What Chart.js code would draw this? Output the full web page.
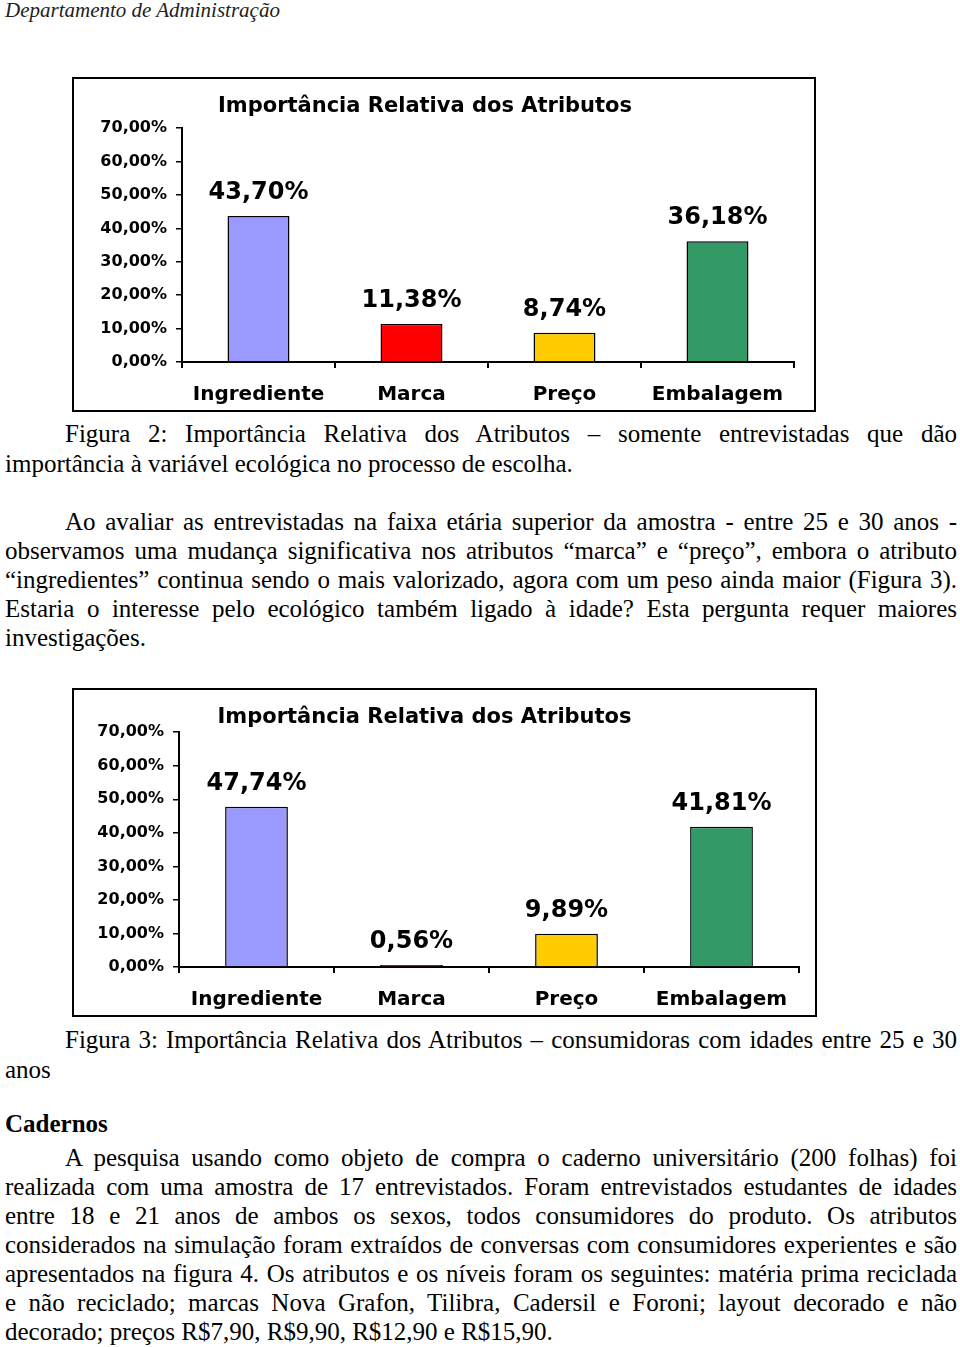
<!DOCTYPE html>
<html lang="pt">
<head>
<meta charset="utf-8">
<title>Importância Relativa dos Atributos</title>
<script src="https://cdn.jsdelivr.net/npm/chart.js@4.4.1/dist/chart.umd.min.js"></script>
<style>
  html, body { margin: 0; padding: 0; background: #fff; overflow: hidden; }
  body { position: relative; width: 960px; height: 1347px; font-family: "Liberation Serif", "Times New Roman", serif; color: #000; }
  .ln { position: absolute; left: 5px; width: 952px; font-size: 25px; line-height: 29px; text-align: left; }
  .j { text-align: justify; text-align-last: justify; }
  .ind { padding-left: 60px; width: 892px; }
  .hdr { position: absolute; left: 5px; top: -2px; font-size: 21px; line-height: 24px; font-style: italic; color: #222; }
  .frame { position: absolute; left: 72px; border: 2px solid #000; box-sizing: border-box; background: #fff; }
</style>
</head>
<body>

<div class="hdr">Departamento de Administração</div>

<div class="frame" style="top:77px; width:744px; height:335px;"><canvas id="fig2"></canvas></div>

<div class="ln j ind" style="top:419px;">Figura 2: Importância Relativa dos Atributos – somente entrevistadas que dão</div>
<div class="ln" style="top:449px;">importância à variável ecológica no processo de escolha.</div>

<div class="ln j ind" style="top:507px;">Ao avaliar as entrevistadas na faixa etária superior da amostra - entre 25 e 30 anos -</div>
<div class="ln j" style="top:536px;">observamos uma mudança significativa nos atributos “marca” e “preço”, embora o atributo</div>
<div class="ln j" style="top:565px;">“ingredientes” continua sendo o mais valorizado, agora com um peso ainda maior (Figura 3).</div>
<div class="ln j" style="top:594px;">Estaria o interesse pelo ecológico também ligado à idade? Esta pergunta requer maiores</div>
<div class="ln" style="top:623px;">investigações.</div>

<div class="frame" style="top:688px; width:745px; height:329px;"><canvas id="fig3"></canvas></div>

<div class="ln j ind" style="top:1025px;">Figura 3: Importância Relativa dos Atributos – consumidoras com idades entre 25 e 30</div>
<div class="ln" style="top:1055px;">anos</div>

<div class="ln" style="top:1109px; font-weight:bold;">Cadernos</div>

<div class="ln j ind" style="top:1143px;">A pesquisa usando como objeto de compra o caderno universitário (200 folhas) foi</div>
<div class="ln j" style="top:1172px;">realizada com uma amostra de 17 entrevistados. Foram entrevistados estudantes de idades</div>
<div class="ln j" style="top:1201px;">entre 18 e 21 anos de ambos os sexos, todos consumidores do produto. Os atributos</div>
<div class="ln j" style="top:1230px;">considerados na simulação foram extraídos de conversas com consumidores experientes e são</div>
<div class="ln j" style="top:1259px;">apresentados na figura 4. Os atributos e os níveis foram os seguintes: matéria prima reciclada</div>
<div class="ln j" style="top:1288px;">e não reciclado; marcas Nova Grafon, Tilibra, Cadersil e Foroni; layout decorado e não</div>
<div class="ln" style="top:1317px;">decorado; preços R$7,90, R$9,90, R$12,90 e R$15,90.</div>

<script>
// ------------------------------
// DATA
// ------------------------------
const chartTitle = 'Importância Relativa dos Atributos';
const categories = ['Ingrediente', 'Marca', 'Preço', 'Embalagem'];
const fig2Values = [43.70, 11.38, 8.74, 36.18];   // somente entrevistadas que dão importância à variável ecológica
const fig3Values = [47.74, 0.56, 9.89, 41.81];    // consumidoras com idades entre 25 e 30 anos
const yTickValues = [0, 10, 20, 30, 40, 50, 60, 70];

// ------------------------------
// HELPERS
// ------------------------------
const fmtPct = v => v.toFixed(2).replace('.', ',') + '%';
const FONT = '"DejaVu Sans", "Liberation Sans", Arial, sans-serif';

// draws the value above every bar, from the bar element's own position
const barValueLabels = {
  id: 'barValueLabels',
  afterDatasetsDraw(chart) {
    const ctx = chart.ctx;
    ctx.save();
    ctx.font = 'bold 24px ' + FONT;
    ctx.fillStyle = '#000';
    ctx.textAlign = 'center';
    ctx.textBaseline = 'middle';
    chart.getDatasetMeta(0).data.forEach((bar, i) => {
      ctx.fillText(fmtPct(chart.data.datasets[0].data[i]), bar.x, bar.y - 23);
    });
    ctx.restore();
  }
};

// the original title is not centred on the frame, shift its box a bit
const titleShift = {
  id: 'titleShift',
  afterLayout(chart, args, opts) {
    if (chart.titleBlock && opts.right) chart.titleBlock.right = opts.right;
  }
};

function buildChart(canvasId, values, lay) {
  const ctx = document.getElementById(canvasId).getContext('2d');
  return new Chart(ctx, {
    type: 'bar',
    data: {
      labels: categories,
      datasets: [{
        data: values,
        backgroundColor: ['#9999FF', '#FF0000', '#FFCC00', '#339966'],
        borderColor: '#000',
        borderWidth: 1.5,
        borderSkipped: 'bottom',
        categoryPercentage: 1,
        barPercentage: 0.405
      }]
    },
    plugins: [barValueLabels, titleShift],
    options: {
      responsive: true,
      maintainAspectRatio: false,
      animation: false,
      layout: { padding: { left: 0, right: lay.padRight, top: 0, bottom: 0 } },
      scales: {
        x: {
          offset: true,
          grid: { display: true, drawOnChartArea: false, drawTicks: true, tickLength: 6, color: '#000', lineWidth: 2, offset: true },
          border: { display: true, color: '#000', width: 2 },
          ticks: { color: '#000', padding: 15, font: { family: FONT, size: 20, weight: 'bold' } },
          afterFit: s => { s.height = 48; }
        },
        y: {
          min: 0,
          max: 70,
          afterBuildTicks: s => { s.ticks = yTickValues.map(v => ({ value: v })); },
          grid: { display: true, drawOnChartArea: false, drawTicks: true, tickLength: 6, color: '#000', lineWidth: 1.5 },
          border: { display: true, color: '#000', width: 2 },
          ticks: { color: '#000', padding: 9, callback: v => fmtPct(v), font: { family: FONT, size: 16, weight: 'bold' } },
          afterFit: s => { s.width = lay.yWidth; }
        }
      },
      plugins: {
        legend: { display: false },
        tooltip: { enabled: false },
        title: {
          display: true,
          text: chartTitle,
          color: '#000',
          font: { family: FONT, size: 21, weight: 'bold' },
          padding: { top: 15, bottom: lay.titleBottom }
        },
        titleShift: { right: lay.titleRight }
      }
    }
  });
}

document.addEventListener('DOMContentLoaded', () => {
  buildChart('fig2', fig2Values, { padRight: 20, yWidth: 108, titleBottom: 9, titleRight: 702 });
  buildChart('fig3', fig3Values, { padRight: 16, yWidth: 105, titleBottom: 2, titleRight: 701 });
});
</script>
</body>
</html>
